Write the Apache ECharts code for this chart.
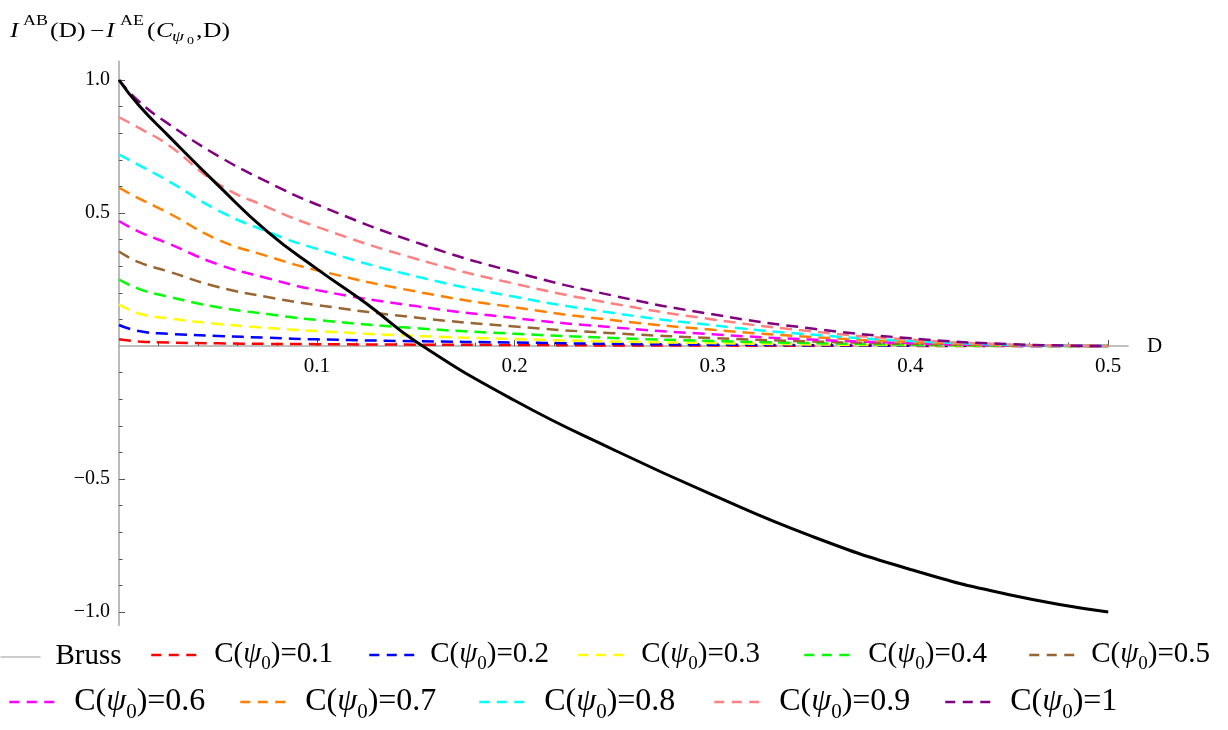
<!DOCTYPE html>
<html>
<head>
<meta charset="utf-8">
<script src="https://cdn.jsdelivr.net/npm/echarts@6/dist/echarts.min.js"></script>
<style>html,body{margin:0;padding:0;background:#fff;}#c{width:1228px;height:730px;}</style>
</head>
<body>
<div id="c"></div>
<script>
// ---- data ----
const D = [0, 0.01, 0.025, 0.05, 0.075, 0.1, 0.15, 0.2, 0.25, 0.3, 0.35, 0.4, 0.45, 0.5];
const c01 = [0.025, 0.017, 0.013, 0.010, 0.008, 0.007, 0.005, 0.004, 0.002, 0.0015, 0.001, 0.0005, 0, 0];
const c02 = [0.079, 0.056, 0.046, 0.038, 0.031, 0.025, 0.018, 0.013, 0.008, 0.005, 0.003, 0.001, 0.0005, 0];
const c03 = [0.157, 0.122, 0.104, 0.083, 0.068, 0.056, 0.038, 0.026, 0.017, 0.011, 0.006, 0.003, 0.001, 0];
const c04 = [0.25, 0.215, 0.185, 0.146, 0.12, 0.098, 0.067, 0.046, 0.030, 0.019, 0.011, 0.005, 0.001, 0];
const c05 = [0.355, 0.315, 0.28, 0.222, 0.184, 0.154, 0.107, 0.073, 0.048, 0.030, 0.017, 0.008, 0.002, 0];
const c06 = [0.47, 0.43, 0.385, 0.307, 0.255, 0.21, 0.15, 0.105, 0.07, 0.044, 0.024, 0.011, 0.003, 0];
const c07 = [0.595, 0.555, 0.5, 0.40, 0.338, 0.285, 0.205, 0.145, 0.097, 0.061, 0.034, 0.015, 0.004, 0];
const c08 = [0.72, 0.68, 0.62, 0.51, 0.43, 0.365, 0.262, 0.185, 0.124, 0.078, 0.043, 0.019, 0.005, 0];
const c09 = [0.86, 0.82, 0.755, 0.61, 0.522, 0.448, 0.328, 0.234, 0.159, 0.100, 0.055, 0.024, 0.006, 0];
const c10 = [1.0, 0.92, 0.835, 0.715, 0.617, 0.532, 0.39, 0.278, 0.189, 0.119, 0.066, 0.029, 0.007, 0];
const brussD = [0, 0.01, 0.025, 0.05, 0.075, 0.1, 0.125, 0.15, 0.2, 0.25, 0.3, 0.35, 0.4, 0.45, 0.5];
const bruss = [1.0, 0.905, 0.79, 0.605, 0.43, 0.29, 0.16, 0.017, -0.205, -0.39, -0.56, -0.715, -0.84, -0.935, -1.0];
const cLabels = ['0.1', '0.2', '0.3', '0.4', '0.5', '0.6', '0.7', '0.8', '0.9', '1'];
const xMajorTicks = [0.1, 0.2, 0.3, 0.4, 0.5];
const xMinorTicks = [0.02, 0.04, 0.06, 0.08, 0.12, 0.14, 0.16, 0.18, 0.22, 0.24, 0.26, 0.28, 0.32, 0.34, 0.36, 0.38, 0.42, 0.44, 0.46, 0.48];
const yMajorTicks = [-1, -0.5, 0.5, 1];
const yMinorTicks = [-0.9, -0.8, -0.7, -0.6, -0.4, -0.3, -0.2, -0.1, 0.1, 0.2, 0.3, 0.4, 0.6, 0.7, 0.8, 0.9];

// ---- styling ----
const colors = ['#ff0000', '#0000ff', '#ffff00', '#00ff00', '#996633', '#ff00ff', '#ff8000', '#00ffff', '#ff8080', '#800080'];
const cSeries = [c01, c02, c03, c04, c05, c06, c07, c08, c09, c10];
const SERIF = 'Liberation Serif, Times New Roman, serif';
const names = cLabels.map(l => 'C(ψ0)=' + l);

const series = [];
cSeries.forEach((arr, i) => {
  series.push({
    name: names[i], type: 'line', symbol: 'none', smooth: 0.5,
    data: D.map((d, k) => [d, arr[k]]),
    lineStyle: { color: colors[i], width: 2.5, type: [12, 7] },
    itemStyle: { color: colors[i] },
    z: 2
  });
});
series.push({
  name: 'Bruss', type: 'line', symbol: 'none', smooth: 0.5,
  data: brussD.map((d, k) => [d, bruss[k]]),
  lineStyle: { color: '#000', width: 3, type: 'solid' },
  itemStyle: { color: '#000' },
  z: 3
});

function mkLegend(name, left, center, fs, sp, lineStyle, iconW) {
  const isC = name !== 'Bruss';
  const subFs = Math.round(fs * 0.65);
  const blockH = isC ? subFs + Math.round(fs * 0.5) : fs + 1;
  return {
    data: [name], left: left, top: center - blockH / 2, padding: 0,
    itemWidth: iconW, itemHeight: 14, selectedMode: false,
    lineStyle: lineStyle,
    itemStyle: { color: 'rgba(0,0,0,0)', borderColor: 'rgba(0,0,0,0)', borderWidth: 0, opacity: 0 },
    formatter: function (n) {
      if (n === 'Bruss') return '{sp|}{n|Bruss}';
      const val = n.split('=')[1];
      return '{sp|}{n|C(}{i|ψ}{sub|0}{n|)=' + val + '}';
    },
    textStyle: {
      fontFamily: SERIF, fontSize: fs, color: '#000',
      rich: {
        sp: { width: sp },
        n: { fontFamily: SERIF, fontSize: fs, lineHeight: fs + 1, verticalAlign: 'top', color: '#000' },
        i: { fontFamily: SERIF, fontSize: fs, fontStyle: 'italic', lineHeight: fs + 1, verticalAlign: 'top', color: '#000' },
        sub: { fontFamily: SERIF, fontSize: subFs, lineHeight: subFs, padding: [Math.round(fs * 0.5), 0, 0, 0], verticalAlign: 'top', color: '#000' }
      }
    }
  };
}

const dash = [10, 7.5];
const legends = [
  mkLegend('Bruss', 0, 657, 29, 10, { color: '#999', width: 1, type: 'solid' }, 40),
  mkLegend(names[0], 150, 657, 29, 13, { color: colors[0], width: 2.5, type: dash }, 45),
  mkLegend(names[1], 368, 657, 29, 11, { color: colors[1], width: 2.5, type: dash }, 45),
  mkLegend(names[2], 577, 657, 29, 13, { color: colors[2], width: 2.5, type: dash }, 45),
  mkLegend(names[3], 803, 657, 29, 14, { color: colors[3], width: 2.5, type: dash }, 45),
  mkLegend(names[4], 1028, 657, 29, 12, { color: colors[4], width: 2.5, type: dash }, 45),
  mkLegend(names[5], 8, 704, 32, 15, { color: colors[5], width: 2.5, type: dash }, 45),
  mkLegend(names[6], 239, 704, 32, 15, { color: colors[6], width: 2.5, type: dash }, 45),
  mkLegend(names[7], 478, 704, 32, 15, { color: colors[7], width: 2.5, type: dash }, 45),
  mkLegend(names[8], 713, 704, 32, 15, { color: colors[8], width: 2.5, type: dash }, 45),
  mkLegend(names[9], 944, 704, 32, 15, { color: colors[9], width: 2.5, type: dash }, 45)
];

// title pieces: [text, x, y, fontSize, italic]
const titleParts = [
  ['I', 10, 31.5, 20, true],
  ['AB', 23, 21.7, 14, false],
  ['(D)', 50, 31.5, 20, false],
  ['−', 90, 32, 20, false],
  ['I', 106, 31.5, 20, true],
  ['AE', 120, 21.7, 14, false],
  ['(', 147, 31.5, 20, false],
  ['C', 156, 31.5, 20, true],
  ['ψ', 172, 37.5, 15, true],
  ['0', 187, 41.3, 11, false],
  [',', 196, 31.5, 20, false],
  ['D)', 203, 31.5, 20, false]
];
const graphic = titleParts.map(p => ({
  type: 'text', x: p[1], y: p[2], scaleX: 1.28,
  style: { text: p[0], x: 0, y: 0, fontFamily: SERIF, fontSize: p[3], fontStyle: p[4] ? 'italic' : 'normal',
           fill: '#000', textAlign: 'left', verticalAlign: 'middle' }
}));

const axisGray = '#aaaaaa';
const tickColor = '#555';
const yMin = -1.05, yMax = 1.07;
const gridTop = 346 - yMax * 266;
const gridBottomY = 346 - yMin * 266;
const xOffset = -(gridBottomY - 346);

const option = {
  animation: false,
  backgroundColor: '#fff',
  grid: { left: 119, right: 100, top: gridTop, bottom: 730 - gridBottomY, containLabel: false, outerBoundsMode: 'none' },
  xAxis: [
    {
      type: 'value', min: 0, max: 0.51, position: 'bottom', offset: xOffset,
      name: 'D', nameLocation: 'end', nameGap: 19,
      nameTextStyle: { fontFamily: SERIF, fontSize: 21, color: '#000', align: 'left', verticalAlign: 'middle' },
      axisLine: { show: true, onZero: false, lineStyle: { color: axisGray, width: 1.6 } },
      axisTick: { show: true, inside: true, length: 6, customValues: xMajorTicks, lineStyle: { color: tickColor, width: 1 } },
      axisLabel: { show: true, customValues: xMajorTicks, margin: 10, fontFamily: SERIF, fontSize: 21, color: '#000',
                   formatter: v => v.toFixed(1) },
      splitLine: { show: false }
    },
    {
      type: 'value', min: 0, max: 0.51, position: 'bottom', offset: xOffset,
      axisLine: { show: false, onZero: false },
      axisTick: { show: true, inside: true, length: 3.5, customValues: xMinorTicks, lineStyle: { color: tickColor, width: 1 } },
      axisLabel: { show: false },
      splitLine: { show: false }
    }
  ],
  yAxis: [
    {
      type: 'value', min: yMin, max: yMax, position: 'left',
      axisLine: { show: true, onZero: false, lineStyle: { color: axisGray, width: 1.6 } },
      axisTick: { show: true, inside: true, length: 6, customValues: yMajorTicks, lineStyle: { color: tickColor, width: 1 } },
      axisLabel: { show: true, customValues: yMajorTicks, margin: 9, fontFamily: SERIF, fontSize: 20, color: '#000',
                   formatter: v => (v < 0 ? '−' : '') + Math.abs(v).toFixed(1) },
      splitLine: { show: false }
    },
    {
      type: 'value', min: yMin, max: yMax, position: 'left',
      axisLine: { show: false, onZero: false },
      axisTick: { show: true, inside: true, length: 3.5, customValues: yMinorTicks, lineStyle: { color: tickColor, width: 1 } },
      axisLabel: { show: false },
      splitLine: { show: false }
    }
  ],
  legend: legends,
  graphic: graphic,
  series: series
};

const chart = echarts.init(document.getElementById('c'), null, { renderer: 'canvas' });
chart.setOption(option);
</script>
</body>
</html>
